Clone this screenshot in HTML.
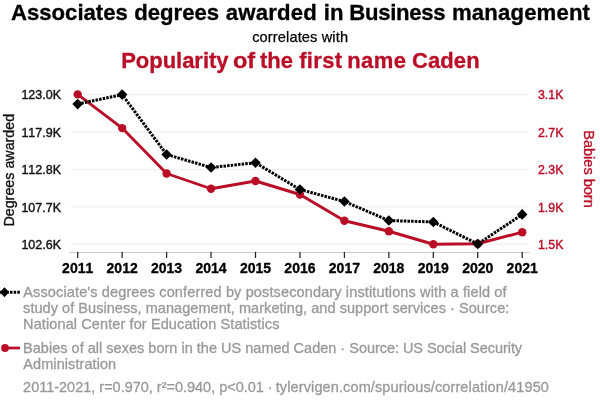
<!DOCTYPE html>
<html><head><meta charset="utf-8">
<style>
html,body{margin:0;padding:0;background:#fff;}
body{width:600px;height:408px;overflow:hidden;font-family:"Liberation Sans",sans-serif;}
svg{display:block;will-change:transform;}
text{font-family:"Liberation Sans",sans-serif;}
.nk text,.nk{font-kerning:none;}
</style></head><body>
<svg width="600" height="408" viewBox="0 0 600 408">
<rect width="600" height="408" fill="#fff"/>
<!-- titles -->
<text id="t1" x="11.3" y="19.75" font-size="22.16" font-weight="bold" fill="#000" stroke="#000" stroke-width="0.3"><tspan x="10.9">Associates</tspan> <tspan x="134.2">degrees</tspan> <tspan x="225.8" textLength="91" lengthAdjust="spacing">awarded</tspan> <tspan x="323.8">in</tspan> <tspan x="349.2" textLength="96.5" lengthAdjust="spacing">Business</tspan> <tspan x="452" textLength="138" lengthAdjust="spacing">management</tspan></text>
<text id="t2" x="252.2" y="42" font-size="14.6" fill="#000" stroke="#000" stroke-width="0.25" textLength="95.8" lengthAdjust="spacing">correlates with</text>
<text id="t3" x="120.9" y="67.9" font-size="22" font-weight="bold" fill="#ba0e27" stroke="#ba0e27" stroke-width="0.3"><tspan x="121.2" textLength="107.3" lengthAdjust="spacing">Popularity</tspan> <tspan x="232.9" textLength="22.2" lengthAdjust="spacingAndGlyphs">of</tspan> <tspan x="259.9">the</tspan> <tspan x="299.2" textLength="42.9" lengthAdjust="spacing">first</tspan> <tspan x="347.3" textLength="58.6" lengthAdjust="spacing">name</tspan> <tspan x="411.9" textLength="67.8" lengthAdjust="spacing">Caden</tspan></text>
<!-- grid -->
<g stroke="#ededed" stroke-width="1">
<line x1="71" x2="528" y1="94.7" y2="94.7"/>
<line x1="71" x2="528" y1="132.0" y2="132.0"/>
<line x1="71" x2="528" y1="169.4" y2="169.4"/>
<line x1="71" x2="528" y1="206.85" y2="206.85"/>
<line x1="71" x2="528" y1="244.15" y2="244.15"/>
</g>
<!-- axis -->
<g stroke="#222" stroke-width="1.25">
<line x1="70" x2="529.5" y1="252.5" y2="252.5" stroke="#cbcbcb" stroke-width="1"/>
<line x1="77.7" x2="77.7" y1="252" y2="258"/>
<line x1="122.15" x2="122.15" y1="252" y2="258"/>
<line x1="166.6" x2="166.6" y1="252" y2="258"/>
<line x1="211.05" x2="211.05" y1="252" y2="258"/>
<line x1="255.5" x2="255.5" y1="252" y2="258"/>
<line x1="299.95" x2="299.95" y1="252" y2="258"/>
<line x1="344.4" x2="344.4" y1="252" y2="258"/>
<line x1="388.85" x2="388.85" y1="252" y2="258"/>
<line x1="433.3" x2="433.3" y1="252" y2="258"/>
<line x1="477.75" x2="477.75" y1="252" y2="258"/>
<line x1="522.2" x2="522.2" y1="252" y2="258"/>
</g>
<!-- y left labels -->
<g class="nk" font-size="12.9" fill="#111" stroke="#111" stroke-width="0.4" text-anchor="end">
<text x="61" y="99" textLength="39.6" lengthAdjust="spacingAndGlyphs">123.0K</text>
<text x="61" y="137" textLength="39.6" lengthAdjust="spacingAndGlyphs">117.9K</text>
<text x="61" y="174" textLength="39.6" lengthAdjust="spacingAndGlyphs">112.8K</text>
<text x="61" y="212" textLength="39.6" lengthAdjust="spacingAndGlyphs">107.7K</text>
<text x="61" y="249" textLength="39.6" lengthAdjust="spacingAndGlyphs">102.6K</text>
</g>
<!-- y right labels -->
<g class="nk" font-size="12.9" fill="#ba0e27" stroke="#ba0e27" stroke-width="0.4" text-anchor="start">
<text x="538" y="99" textLength="25.4" lengthAdjust="spacingAndGlyphs">3.1K</text>
<text x="538" y="137" textLength="25.4" lengthAdjust="spacingAndGlyphs">2.7K</text>
<text x="538" y="174" textLength="25.4" lengthAdjust="spacingAndGlyphs">2.3K</text>
<text x="538" y="212" textLength="25.4" lengthAdjust="spacingAndGlyphs">1.9K</text>
<text x="538" y="249" textLength="25.4" lengthAdjust="spacingAndGlyphs">1.5K</text>
</g>
<!-- x labels -->
<g class="nk" font-size="14" font-weight="bold" fill="#000" stroke="#000" stroke-width="0.3" text-anchor="middle">
<text x="77.7" y="272.6">2011</text>
<text x="122.15" y="272.6">2012</text>
<text x="166.6" y="272.6">2013</text>
<text x="211.05" y="272.6">2014</text>
<text x="255.5" y="272.6">2015</text>
<text x="299.95" y="272.6">2016</text>
<text x="344.4" y="272.6">2017</text>
<text x="388.85" y="272.6">2018</text>
<text x="433.3" y="272.6">2019</text>
<text x="477.75" y="272.6">2020</text>
<text x="522.2" y="272.6">2021</text>
</g>
<!-- axis titles -->
<text transform="translate(14.4,170.2) rotate(-90)" font-size="15.1" fill="#111" stroke="#111" stroke-width="0.35" text-anchor="middle" textLength="112.8" lengthAdjust="spacingAndGlyphs">Degrees awarded</text>
<text transform="translate(583.6,169) rotate(90)" font-size="15" fill="#ba0e27" stroke="#ba0e27" stroke-width="0.35" text-anchor="middle" textLength="77.6" lengthAdjust="spacingAndGlyphs">Babies born</text>
<!-- red series -->
<polyline fill="none" stroke="#ba0e27" stroke-width="2.9" stroke-linejoin="round" points="77.7,94.4 122.15,128.1 166.6,173.5 211.05,188.75 255.5,181 299.95,194.5 344.4,220.75 388.85,231.25 433.3,244.25 477.75,243.75 522.2,232.2"/>
<g fill="#ba0e27">
<circle cx="77.7" cy="94.4" r="4.2"/><circle cx="122.15" cy="128.1" r="4.2"/><circle cx="166.6" cy="173.5" r="4.2"/><circle cx="211.05" cy="188.75" r="4.2"/><circle cx="255.5" cy="181" r="4.2"/><circle cx="299.95" cy="194.5" r="4.2"/><circle cx="344.4" cy="220.75" r="4.2"/><circle cx="388.85" cy="231.25" r="4.2"/><circle cx="433.3" cy="244.25" r="4.2"/><circle cx="477.75" cy="243.75" r="4.2"/><circle cx="522.2" cy="232.2" r="4.2"/>
</g>
<!-- black series -->
<polyline fill="none" stroke="#000" stroke-width="3" stroke-dasharray="2.5,1.15" stroke-linejoin="round" points="77.7,104.1 122.15,94.6 166.6,154.5 211.05,167.5 255.5,162.75 299.95,189.5 344.4,201.5 388.85,220.5 433.3,222 477.75,244 522.2,214.5"/>
<g fill="#000">
<path d="M77.7,98.8l5.3,5.3l-5.3,5.3l-5.3,-5.3z"/>
<path d="M122.15,89.3l5.3,5.3l-5.3,5.3l-5.3,-5.3z"/>
<path d="M166.6,149.2l5.3,5.3l-5.3,5.3l-5.3,-5.3z"/>
<path d="M211.05,162.2l5.3,5.3l-5.3,5.3l-5.3,-5.3z"/>
<path d="M255.5,157.45l5.3,5.3l-5.3,5.3l-5.3,-5.3z"/>
<path d="M299.95,184.2l5.3,5.3l-5.3,5.3l-5.3,-5.3z"/>
<path d="M344.4,196.2l5.3,5.3l-5.3,5.3l-5.3,-5.3z"/>
<path d="M388.85,215.2l5.3,5.3l-5.3,5.3l-5.3,-5.3z"/>
<path d="M433.3,216.7l5.3,5.3l-5.3,5.3l-5.3,-5.3z"/>
<path d="M477.75,238.7l5.3,5.3l-5.3,5.3l-5.3,-5.3z"/>
<path d="M522.2,209.1l5.3,5.3l-5.3,5.3l-5.3,-5.3z"/>
</g>
<!-- legend -->
<line x1="-0.95" x2="20" y1="292.3" y2="292.3" stroke="#000" stroke-width="3" stroke-dasharray="2.5,1.15"/>
<path d="M4.5,287.3l4.6,5l-4.6,5l-4.6,-5z" fill="#000"/>
<line x1="4" x2="20" y1="348" y2="348" stroke="#ba0e27" stroke-width="2.7"/>
<circle cx="5" cy="348" r="3.9" fill="#ba0e27"/>
<g font-size="14.5" fill="#999" stroke="#999" stroke-width="0.3">
<text x="23.3" y="297" textLength="483.3" lengthAdjust="spacing">Associate's degrees conferred by postsecondary institutions with a field of</text>
<text x="23.1" y="313" textLength="486.2" lengthAdjust="spacing">study of Business, management, marketing, and support services · Source:</text>
<text x="23.1" y="329" textLength="256.3" lengthAdjust="spacing">National Center for Education Statistics</text>
<text x="23.1" y="352.9"><tspan textLength="266.6" lengthAdjust="spacing">Babies of all sexes born in the US named</tspan> <tspan x="293.6">Caden ·</tspan> <tspan x="349.3" textLength="172.8" lengthAdjust="spacing">Source: US Social Security</tspan></text>
<text x="23.3" y="368.9" textLength="92.9" lengthAdjust="spacing">Administration</text>
<text x="23.1" y="392"><tspan textLength="249.6" lengthAdjust="spacing">2011-2021, r=0.970, r²=0.940, p&lt;0.01 ·</tspan> <tspan x="275.7" textLength="273.2" lengthAdjust="spacing">tylervigen.com/spurious/correlation/41950</tspan></text>
</g>
</svg>
</body></html>
